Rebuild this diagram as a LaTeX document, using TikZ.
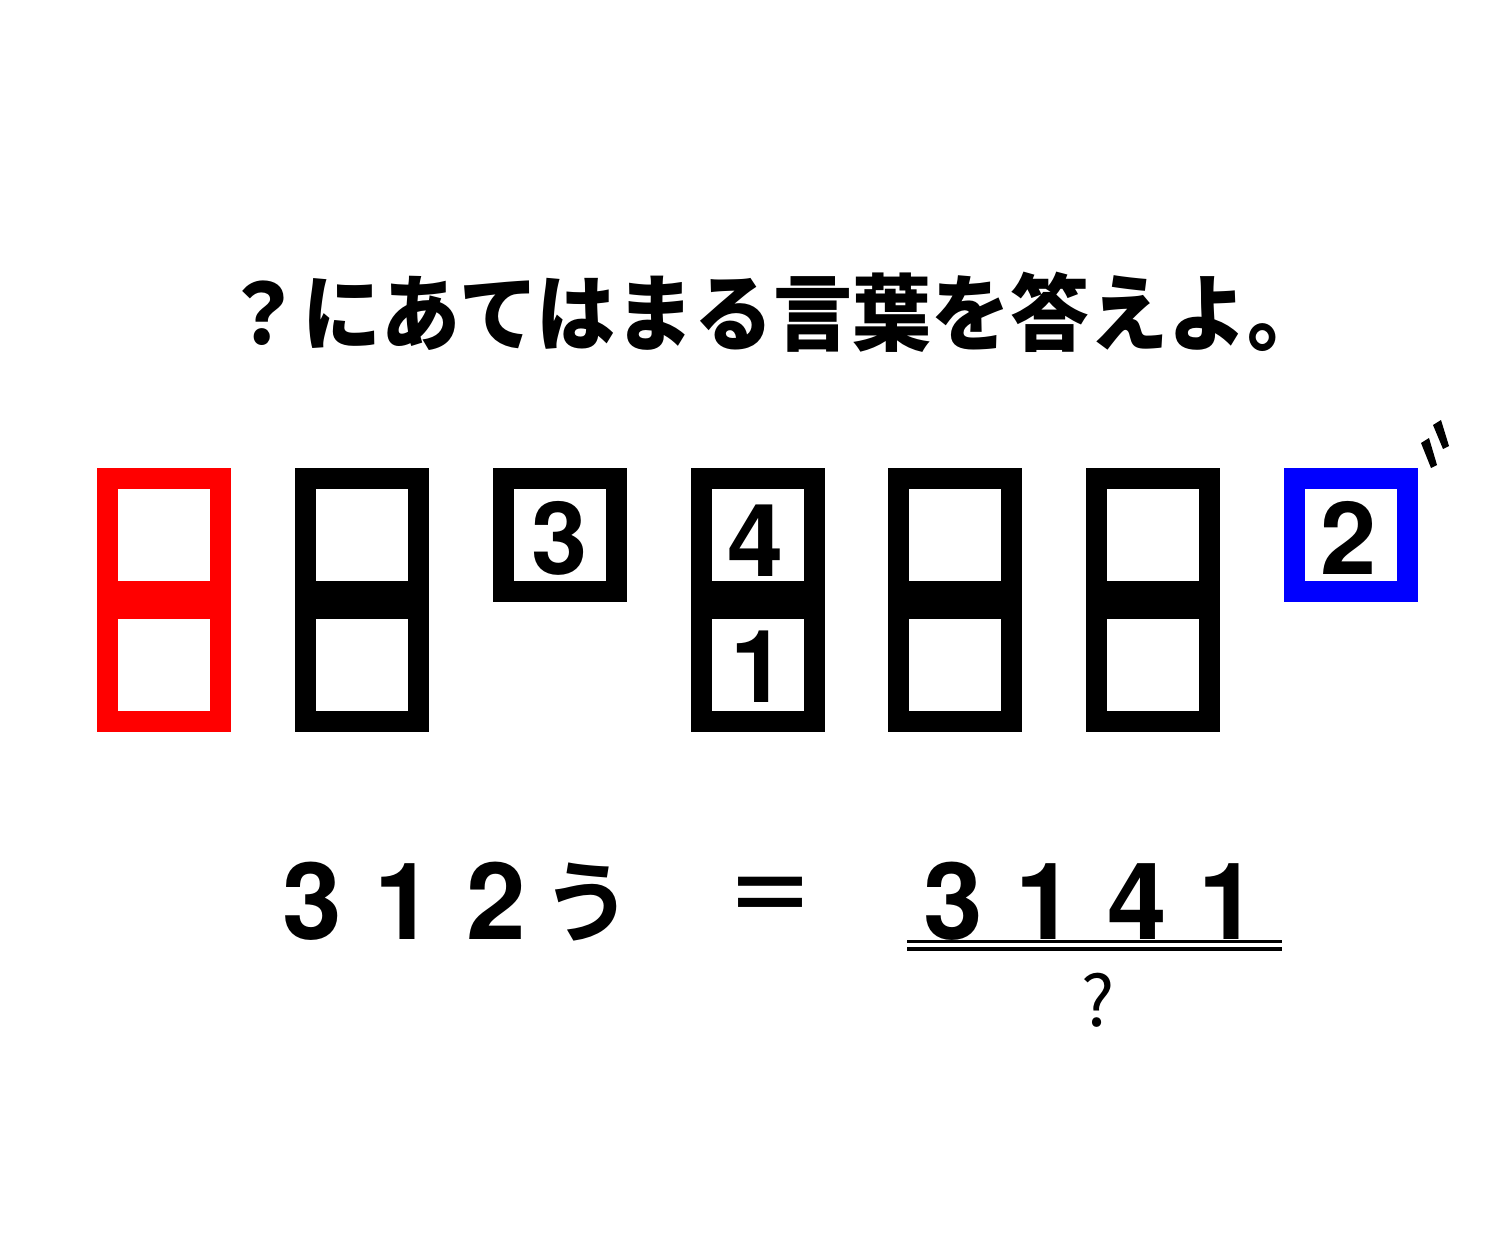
\documentclass[tikz,border=0pt]{standalone}
\usepackage{fontspec}
\setmainfont{TeX Gyre Heros}
\newfontfamily\jpb{Noto Sans CJK JP Bold}
\newfontfamily\jpk{Noto Sans CJK JP Black}
\newfontfamily\jpr{Noto Sans CJK JP}
\tikzset{
  boxdig/.style={inner sep=0pt, anchor=base, font=\fontsize{101}{101}\selectfont\bfseries},
  bigdig/.style={inner sep=0pt, anchor=base, font=\fontsize{107}{107}\selectfont\bfseries},
  title/.style={inner sep=0pt, font=\fontsize{79}{79}\jpk},
}
\begin{document}
\begin{tikzpicture}[x=1pt,y=-1pt]
\useasboundingbox (0,0) rectangle (1501,1251);
\fill[white] (0,0) rectangle (1501,1251);
% title
\node[title, yscale=1.06] (ttl) at (775,312) {？にあてはまる言葉を答えよ。};
% tall boxes
\foreach \x/\c in {97/red,295/black,691/black,888/black,1086/black} {
  \fill[\c] (\x,468) rectangle ++(134,264);
  \fill[white] (\x+21,489) rectangle ++(92,92);
  \fill[white] (\x+21,619) rectangle ++(92,92);
}
% single boxes
\foreach \x/\c in {493/black,1284/blue} {
  \fill[\c] (\x,468) rectangle ++(134,134);
  \fill[white] (\x+21,489) rectangle ++(92,92);
}
% box digits
\node[boxdig] (b3) at (560,574) {3};
\node[boxdig] (b4) at (756,576) {4};
\node[boxdig] (b1) at (759,702) {1};
\node[boxdig] (b2) at (1349,574) {2};
% dakuten mark
\fill[black] (1433,425) -- (1441,420) -- (1449,446) -- (1443,449) -- cycle;
\fill[black] (1421,443) -- (1429,438) -- (1437,465) -- (1431,468) -- cycle;
% bottom left expression
\node[bigdig] (l3) at (312.5,939) {3};
\node[bigdig] (l1) at (404,939) {1};
\node[bigdig] (l2) at (496,939) {2};
\node[inner sep=0pt, font=\fontsize{90}{90}\jpb] (lu) at (587.5,902.5) {う};
\node[inner sep=0pt, font=\fontsize{90}{90}\jpb] (eq) at (770.5,902) {＝};
% right side
\node[bigdig] (r3) at (953.5,939) {3};
\node[bigdig] (r1) at (1045,939) {1};
\node[bigdig] (r4) at (1137,939) {4};
\node[bigdig] (r1b) at (1228,939) {1};
\draw[line width=3.5pt] (907,941.5) -- (1282,941.5);
\draw[line width=3.5pt] (907,949) -- (1282,949);
\node[inner sep=0pt, font=\fontsize{70}{70}\jpr] (q) at (1098,1000) {?};
\end{tikzpicture}
\end{document}
